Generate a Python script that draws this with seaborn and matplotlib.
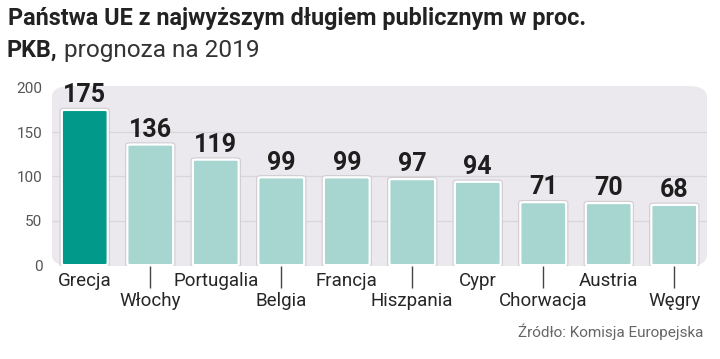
import matplotlib
matplotlib.use("Agg")
import matplotlib.pyplot as plt
import seaborn as sns
import pandas as pd
from matplotlib.patches import FancyBboxPatch

countries = ["Grecja", "Włochy", "Portugalia", "Belgia", "Francja",
             "Hiszpania", "Cypr", "Chorwacja", "Austria", "Węgry"]
values = [175, 136, 119, 99, 99, 97, 94, 71, 70, 68]
yticks = [0, 50, 100, 150, 200]
title_line1 = "Państwa UE z najwyższym długiem publicznym w proc."
title_bold2 = "PKB,"
title_rest2 = " prognoza na 2019"
source = "Źródło: Komisja Europejska"

sns.set_theme(style="white")
plt.rcParams['font.family'] = ['Roboto', 'DejaVu Sans']

df = pd.DataFrame({"kraj": countries, "wartosc": values})
colors = ["#00998a"] + ["#a7d5d0"] * (len(countries) - 1)

fig = plt.figure(figsize=(7.2, 3.59), dpi=100)
ax = fig.add_axes([52/720, 1 - 266/359, 655/720, 180/359])
ax.patch.set_visible(False)

bg = FancyBboxPatch((0, 0), 1, 1, boxstyle="round,pad=0,rounding_size=0.03",
                    mutation_aspect=2.0, transform=ax.transAxes,
                    facecolor="#ebe8ee", edgecolor="none", zorder=0)
ax.add_patch(bg)

sns.barplot(data=df, x="kraj", y="wartosc", hue="kraj", palette=colors,
            saturation=1, legend=False, width=0.7, ax=ax, zorder=3)

ax.set_ylim(-1, 202)
ax.set_xlim(-0.5, len(countries) - 0.5)

for p in list(ax.patches):
    if isinstance(p, FancyBboxPatch):
        continue
    x0, y0 = p.get_x(), p.get_y()
    w, h = p.get_width(), p.get_height()
    fc = p.get_facecolor()
    p.set_visible(False)
    shadow = FancyBboxPatch((x0, y0), w, h,
                            boxstyle="round,pad=0,rounding_size=0.06",
                            mutation_aspect=14,
                            facecolor="none", edgecolor="#cfccd2", linewidth=3.2,
                            zorder=2)
    rb = FancyBboxPatch((x0, y0), w, h,
                        boxstyle="round,pad=0,rounding_size=0.06",
                        mutation_aspect=14,
                        facecolor=fc, edgecolor="white", linewidth=1.6,
                        zorder=3)
    ax.add_patch(shadow)
    ax.add_patch(rb)

for i, v in enumerate(values):
    ax.text(i, v + 3, str(v), ha="center", va="bottom", fontsize=18,
            fontweight="bold", color="#1e1e1e", zorder=5)

ax.set_yticks(yticks)
ax.set_yticklabels([str(t) for t in yticks], fontsize=11, color="#555555")
for t in yticks[1:-1]:
    ax.axhline(t, color="#d8d5db", linewidth=0.9, zorder=1)

ax.set_xlabel("")
ax.set_ylabel("")
even = list(range(0, len(countries), 2))
odd = list(range(1, len(countries), 2))
ax.set_xticks(even, [countries[i] for i in even])
ax.set_xticks(odd, [countries[i] for i in odd], minor=True)
for lab in ax.get_xticklabels(which="both"):
    lab.set_fontsize(13.5)
    lab.set_color("#262626")
ax.tick_params(axis="y", length=0, pad=7)
ax.tick_params(axis="x", which="major", length=0, pad=4)
ax.tick_params(axis="x", which="minor", direction="out", length=15.5, width=1.0,
               color="#444444", pad=3.5, bottom=True)
sns.despine(ax=ax, left=True, bottom=True)

fig.text(8/720, 1 - 19/359, title_line1, fontsize=16.8, fontweight="bold",
         color="#222222", va="center", ha="left")
t2 = fig.text(7/720, 1 - 50/359, title_bold2, fontsize=16.8, fontweight="bold",
              color="#222222", va="center", ha="left")
fig.canvas.draw()
bb = t2.get_window_extent()
fig.text(bb.x1 / 720, 1 - 50/359, title_rest2, fontsize=17.6, fontweight="normal",
         color="#333333", va="center", ha="left")

fig.text(703/720, 1 - 332/359, source, fontsize=11, color="#666666",
         ha="right", va="center")

fig.savefig("out.png", dpi=100)
